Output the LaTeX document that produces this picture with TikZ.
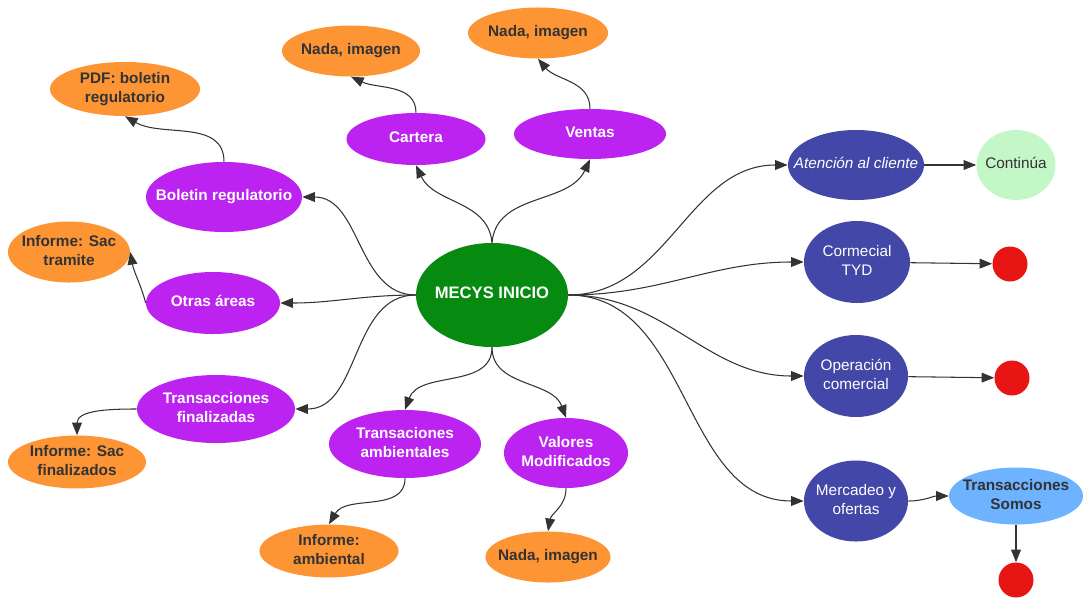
\documentclass[tikz,border=0pt]{standalone}
\usepackage{fontspec}
\setmainfont{Liberation Sans}
\usepackage{tikz}
\usetikzlibrary{shapes.geometric, arrows.meta}

\definecolor{hubgreen}{HTML}{068A0F}
\definecolor{subpurple}{HTML}{BC22F0}
\definecolor{leaforange}{HTML}{FD9535}
\definecolor{areablue}{HTML}{4347A7}
\definecolor{okgreen}{HTML}{C3F7C8}
\definecolor{skyblue}{HTML}{6DB3FF}
\definecolor{stopred}{HTML}{E81515}
\definecolor{inkgray}{HTML}{333333}

% text of a bubble, kept out of the bubble's size
\newcommand{\bubbletext}[1]{\makebox[0pt]{\begin{tabular}{@{}c@{}}#1\end{tabular}}}

\begin{document}
\begin{tikzpicture}[
        x=0.025cm, y=-0.025cm,
        bubble/.style={ellipse, inner sep=0pt, font=\fontsize{10.9}{13.3}\selectfont},
        hub/.style={bubble, fill=hubgreen, text=white, font=\fontsize{11.8}{13.3}\selectfont\bfseries},
        topic/.style={bubble, fill=subpurple, text=white, font=\fontsize{10.9}{13.3}\selectfont\bfseries},
        detail/.style={bubble, fill=leaforange, text=inkgray, font=\fontsize{10.9}{13.3}\selectfont\bfseries},
        area/.style={bubble, fill=areablue, text=white},
        endpoint/.style={circle, fill=stopred, inner sep=0pt, minimum size=0.875cm},
        link/.style={-{Triangle[length=9pt, width=7pt]}, draw=inkgray, line width=0.75pt}
    ]
    \useasboundingbox (0,0) rectangle (1083,599);

    % Center
    \node[hub, minimum width=3.8cm, minimum height=2.6cm] (mecys) at (492,295) {\bubbletext{MECYS INICIO}};

    % Upper branches
    \node[topic, minimum width=3.475cm, minimum height=1.3cm] (cartera) at (416,139) {\bubbletext{Cartera}};
    \node[topic, minimum width=3.8cm, minimum height=1.25cm] (ventas) at (590,134) {\bubbletext{Ventas}};
    \node[detail, minimum width=3.45cm, minimum height=1.275cm] (nada1) at (351,51) {\bubbletext{Nada, imagen}};
    \node[detail, minimum width=3.5cm, minimum height=1.275cm] (nada2) at (538,33) {\bubbletext{Nada, imagen}};

    % Left branches
    \node[topic, minimum width=3.9cm, minimum height=1.75cm] (boletin) at (224,197) {\bubbletext{Boletin regulatorio}};
    \node[detail, minimum width=3.75cm, minimum height=1.35cm] (pdf) at (125,89) {\bubbletext{PDF: boletin\\regulatorio}};
    \node[topic, minimum width=3.35cm, minimum height=1.55cm] (otras) at (213,303) {\bubbletext{Otras áreas}};
    \node[detail, minimum width=3.05cm, minimum height=1.525cm] (sactram) at (69,252) {\bubbletext{Informe: Sac\\tramite}};
    \node[topic, minimum width=3.95cm, minimum height=1.7cm] (transfin) at (216,409) {\bubbletext{Transacciones\\finalizadas}};
    \node[detail, minimum width=3.45cm, minimum height=1.3cm] (sacfin) at (77,462) {\bubbletext{Informe: Sac\\finalizados}};

    % Lower branches
    \node[topic, minimum width=3.8cm, minimum height=1.7cm] (transamb) at (405,444) {\bubbletext{Transaciones\\ambientales}};
    \node[detail, minimum width=3.475cm, minimum height=1.3cm] (infamb) at (329,551) {\bubbletext{Informe:\\ambiental}};
    \node[topic, minimum width=3.1cm, minimum height=1.75cm] (valores) at (566,453) {\bubbletext{Valores\\Modificados}};
    \node[detail, minimum width=3.125cm, minimum height=1.275cm] (nada3) at (548,557) {\bubbletext{Nada, imagen}};

    % Right branches
    \node[area, minimum width=3.4cm, minimum height=1.75cm] (atencion) at (856,165) {\bubbletext{\itshape Atención al cliente}};
    \node[bubble, fill=okgreen, text=inkgray, minimum width=1.975cm, minimum height=1.75cm] (continua) at (1016,165) {\bubbletext{Continúa}};
    \node[area, minimum width=2.65cm, minimum height=2.05cm] (cormecial) at (857,262) {\bubbletext{Cormecial\\TYD}};
    \node[endpoint] (stop1) at (1010,264) {};
    \node[area, minimum width=2.6cm, minimum height=2.05cm] (operacion) at (856,376) {\bubbletext{Operación\\comercial}};
    \node[endpoint] (stop2) at (1012,378) {};
    \node[area, minimum width=2.6cm, minimum height=2.025cm] (mercadeo) at (856,501) {\bubbletext{Mercadeo y\\ofertas}};
    \node[bubble, fill=skyblue, text=inkgray, font=\fontsize{10.9}{13.3}\selectfont\bfseries, minimum width=3.35cm, minimum height=1.425cm] (somos) at (1016,496) {\bubbletext{Transacciones\\Somos}};
    \node[endpoint] (stop3) at (1016,580) {};

    % Links up
    \draw[link] (mecys.north) to[out=95, in=-65] (cartera.south);
    \draw[link] (mecys.north) to[out=85, in=-115] (ventas.south);
    \draw[link] (cartera.north) to[out=90, in=-25] (nada1.south);
    \draw[link] (ventas.north) to[out=90, in=-50] (nada2.south);

    % Links left
    \draw[link] (mecys.west) to[out=180, in=0] (boletin.east);
    \draw[link] (boletin.north) to[out=90, in=-30] (pdf.south);
    \draw[link] (mecys.west) to[out=180, in=0] (otras.east);
    \draw[link] (otras.west) to[out=105, in=-80] (sactram.east);
    \draw[link] (mecys.west) to[out=180, in=0] (transfin.east);
    \draw[link] (transfin.west) to[out=180, in=90] (sacfin.north);

    % Links down
    \draw[link] (mecys.south) to[out=-90, in=70] (transamb.north);
    \draw[link] (mecys.south) to[out=-90, in=110] (valores.north);
    \draw[link] (transamb.south) to[out=-90, in=60] (infamb.north);
    \draw[link] (valores.south) to[out=-90, in=80] (nada3.north);

    % Links right
    \draw[link] (mecys.east) to[out=0, in=180] (atencion.west);
    \draw[link] (mecys.east) to[out=0, in=180] (cormecial.west);
    \draw[link] (mecys.east) to[out=0, in=180] (operacion.west);
    \draw[link] (mecys.east) to[out=0, in=180] (mercadeo.west);
    \draw[link] (atencion) -- (continua);
    \draw[link] (cormecial) -- (stop1);
    \draw[link] (operacion) -- (stop2);
    \draw[link] (mercadeo) to[out=0, in=180] (somos);
    \draw[link] (somos) -- (stop3);

    \end{tikzpicture}
\end{document}
